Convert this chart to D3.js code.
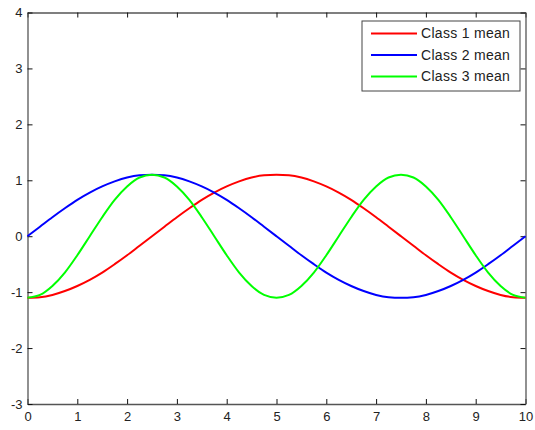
<!DOCTYPE html>
<html>
<head>
<meta charset="utf-8">
<script src="https://cdn.jsdelivr.net/npm/d3@7"></script>
<style>
  body { margin: 0; background: white; }
  svg { display: block; font-family: "Liberation Sans", Arial, sans-serif; }
</style>
</head>
<body>
<svg id="chart"></svg>
<script>
// sample positions along x
let xValues = [0, 0.25, 0.5, 0.75, 1, 1.25, 1.5, 1.75, 2, 2.25, 2.5, 2.75, 3, 3.25, 3.5, 3.75,
  4, 4.25, 4.5, 4.75, 5, 5.25, 5.5, 5.75, 6, 6.25, 6.5, 6.75, 7, 7.25, 7.5, 7.75,
  8, 8.25, 8.5, 8.75, 9, 9.25, 9.5, 9.75, 10];

// values
let class1 = [-1.10, -1.09, -1.05, -0.98, -0.89, -0.78, -0.65, -0.50, -0.34, -0.17, 0,
  0.17, 0.34, 0.50, 0.65, 0.78, 0.89, 0.98, 1.05, 1.09, 1.10,
  1.09, 1.05, 0.98, 0.89, 0.78, 0.65, 0.50, 0.34, 0.17, 0,
  -0.17, -0.34, -0.50, -0.65, -0.78, -0.89, -0.98, -1.05, -1.09, -1.10];
let class2 = [0, 0.17, 0.34, 0.50, 0.65, 0.78, 0.89, 0.98, 1.05, 1.09, 1.10,
  1.09, 1.05, 0.98, 0.89, 0.78, 0.65, 0.50, 0.34, 0.17, 0,
  -0.17, -0.34, -0.50, -0.65, -0.78, -0.89, -0.98, -1.05, -1.09, -1.10,
  -1.09, -1.05, -0.98, -0.89, -0.78, -0.65, -0.50, -0.34, -0.17, 0];
let class3 = [-1.10, -1.05, -0.89, -0.65, -0.34, 0, 0.34, 0.65, 0.89, 1.05, 1.10,
  1.05, 0.89, 0.65, 0.34, 0, -0.34, -0.65, -0.89, -1.05, -1.10,
  -1.05, -0.89, -0.65, -0.34, 0, 0.34, 0.65, 0.89, 1.05, 1.10,
  1.05, 0.89, 0.65, 0.34, 0, -0.34, -0.65, -0.89, -1.05, -1.10];

let seriesNames = ['Class 1 mean', 'Class 2 mean', 'Class 3 mean'];
let seriesColors = ['#ff0000', '#0000ff', '#00ff00'];
let xTicks = [0, 1, 2, 3, 4, 5, 6, 7, 8, 9, 10];
let yTicks = [-3, -2, -1, 0, 1, 2, 3, 4];

function createGraph() {
  let width = 535;
  let height = 430;
  let margin = { top: 12.5, bottom: 26, left: 27.5, right: 9.5 };

  let svg = d3.select('#chart');
  svg.selectAll('*').remove();
  svg.attr('width', width).attr('height', height);

  let xScale = d3.scaleLinear()
    .domain([0, 10])
    .range([margin.left, width - margin.right]);

  let yScale = d3.scaleLinear()
    .domain([-3, 4])
    .range([height - margin.bottom, margin.top]);

  let plain = d => String(d);

  // axes, ticks pointing inwards like the original
  let styleAxis = g => {
    g.select('.domain').attr('stroke', '#555').attr('stroke-width', 1.3);
    g.selectAll('.tick line').attr('stroke', '#111');
    g.selectAll('text').attr('fill', '#222').style('font-size', '13px');
  };

  svg.append('g')
    .attr('transform', `translate(0, ${height - margin.bottom})`)
    .call(d3.axisBottom(xScale).tickValues(xTicks).tickFormat(plain).tickSizeInner(-5).tickSizeOuter(0).tickPadding(8))
    .call(styleAxis);

  svg.append('g')
    .attr('transform', `translate(0, ${margin.top})`)
    .call(d3.axisTop(xScale).tickValues(xTicks).tickFormat('').tickSizeInner(-5).tickSizeOuter(0))
    .call(styleAxis);

  svg.append('g')
    .attr('transform', `translate(${margin.left}, 0)`)
    .call(d3.axisLeft(yScale).tickValues(yTicks).tickFormat(plain).tickSizeInner(-5).tickSizeOuter(0).tickPadding(5))
    .call(styleAxis);

  svg.append('g')
    .attr('transform', `translate(${width - margin.right}, 0)`)
    .call(d3.axisRight(yScale).tickValues(yTicks).tickFormat('').tickSizeInner(-5).tickSizeOuter(0))
    .call(styleAxis);

  // lines
  let series = [class1, class2, class3];
  let line = d3.line()
    .x((d, i) => xScale(xValues[i]))
    .y(d => yScale(d))
    .curve(d3.curveMonotoneX);

  series.forEach((values, i) => {
    svg.append('path')
      .datum(values)
      .attr('d', line)
      .attr('fill', 'none')
      .attr('stroke', seriesColors[i])
      .attr('stroke-width', 2);
  });

  // legend
  let legend = svg.append('g').attr('transform', 'translate(362, 21)');
  legend.append('rect')
    .attr('width', 158)
    .attr('height', 70)
    .attr('fill', 'white')
    .attr('stroke', '#444')
    .attr('stroke-width', 1);

  seriesNames.forEach((name, i) => {
    let y = 12.5 + i * 21.5;
    legend.append('line')
      .attr('x1', 9).attr('x2', 55)
      .attr('y1', y).attr('y2', y)
      .attr('stroke', seriesColors[i])
      .attr('stroke-width', 2);
    legend.append('text')
      .attr('x', 59)
      .attr('y', y)
      .attr('dy', '0.35em')
      .style('font-size', '14px')
      .style('letter-spacing', '0.3px')
      .attr('fill', '#222')
      .text(name);
  });
}

createGraph();
</script>
</body>
</html>
